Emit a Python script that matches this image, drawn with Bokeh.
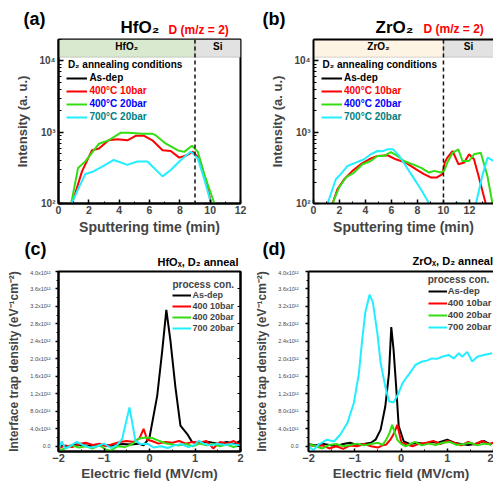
import numpy as np
from bokeh.plotting import figure
from bokeh.layouts import row, column
from bokeh.models import (Range1d, BoxAnnotation, Span, Label, Legend, LegendItem,
                          LinearAxis, SingleIntervalTicker, FixedTicker, CustomJSTickFormatter)
from bokeh.embed import file_html
from bokeh.resources import INLINE

FONT = "Liberation Sans"
BLACK, RED, GREEN, CYAN = "#000000", "#ff0000", "#33dd11", "#22eeff"
NAN = np.nan

# ---------------- (a) HfO2 : D (m/z = 2) SIMS intensity vs sputtering time (min) ----------------
a_asdep_t = [0.0, 12.0]          # as-dep signal lies below 10^2: not visible
a_asdep_i = [NAN, NAN]
a_r10_t = [0.9, 1.55, 2.21, 2.67, 3.3, 3.87, 4.54, 5.09, 5.64, 6.19, 6.86, 7.4, 7.96, 8.51, 8.85, 9.28, 9.73, 10.06]
a_r10_i = [100, 282, 560, 590, 770, 800, 770, 890, 890, 770, 560, 545, 440, 480, 535, 430, 205, 100]
a_g20_t = [0.84, 1.29, 1.77, 2.67, 3.3, 4.09, 4.64, 5.5, 6.2, 6.4, 7.08, 7.85, 8.29, 8.8, 9.18, 9.62, 10.28]
a_g20_i = [100, 316, 390, 690, 770, 980, 980, 950, 950, 910, 690, 560, 530, 645, 535, 253, 100]
a_c700_t = [0.87, 1.33, 1.77, 2.21, 2.88, 3.65, 4.54, 5.2, 5.86, 6.86, 7.4, 8.07, 8.73, 9.18, 9.62, 10.06]
a_c700_i = [100, 166, 259, 276, 330, 408, 348, 388, 388, 240, 296, 408, 535, 430, 217, 100]

# ---------------- (b) ZrO2 ----------------
b_asdep_t = [0.0, 14.0]
b_asdep_i = [NAN, NAN]
b_r10_t = [1.46, 1.85, 2.36, 3.0, 3.64, 4.28, 4.92, 5.7, 6.33, 7.1, 7.87, 8.5, 9.02, 9.5, 9.92, 10.1, 10.3, 10.7,
           11.15, 11.6, 11.97, 12.35, 12.7, 13.25]
b_r10_i = [100, 159, 219, 287, 356, 417, 465, 475, 417, 375, 303, 258, 232, 232, 258, 375, 440, 545,
           356, 375, 490, 417, 244, 100]
b_g20_t = [1.46, 1.97, 2.49, 3.12, 3.77, 4.4, 4.92, 5.43, 5.95, 6.46, 6.97, 7.6, 8.25, 8.9, 9.28, 9.8, 10.05, 10.3,
           10.7, 11.15, 11.46, 11.97, 12.35, 12.87, 13.38, 13.77]
b_g20_i = [100, 168, 232, 272, 356, 395, 465, 465, 525, 465, 395, 356, 318, 272, 287, 272, 287, 375,
           515, 575, 395, 395, 490, 515, 244, 100]
b_c700_t = [1.08, 1.72, 2.1, 2.62, 3.25, 3.9, 4.4, 4.92, 5.3, 5.7, 6.13, 6.6, 7.1, 7.6, 8.25, 8.9,
            NAN, 10.85, 11.0, 11.3, NAN, 12.5, 13.0, 13.4, 13.9]
b_c700_i = [100, 219, 258, 336, 375, 417, 490, 545, 540, 575, 575, 465, 336, 244, 160, 100,
            NAN, 98, 104, 98, NAN, 100, 250, 440, 390]

# ---------------- (c) HfOx : interface trap density (1e12 eV^-1 cm^-2) vs electric field (MV/cm) ----------------
c_asdep_e = [-2.0, -1.8, -1.6, -1.4, -1.2, -1.0, -0.8, -0.6, -0.4, -0.25, -0.13, 0.0, 0.17, 0.28, 0.37, 0.46,
             0.57, 0.68, 0.83, 0.94, 1.1, 1.3, 1.5, 1.7, 1.85, 2.0]
c_asdep_d = [0.02, 0.0, 0.04, 0.02, 0.0, 0.03, 0.01, 0.05, 0.04, 0.06, 0.02, 0.2, 1.16, 2.19, 3.12, 2.42,
             1.35, 0.47, 0.28, 0.09, 0.08, 0.1, 0.06, 0.1, 0.05, 0.12]
c_r10_e = [-2.0, -1.85, -1.7, -1.55, -1.4, -1.25, -1.1, -0.95, -0.8, -0.65, -0.5, -0.35, -0.22, -0.13, -0.05,
           0.05, 0.2, 0.35, 0.5, 0.65, 0.8, 0.95, 1.1, 1.25, 1.4, 1.55, 1.7, 1.85, 2.0]
c_r10_d = [-0.05, 0.02, -0.02, 0.05, 0.08, 0.03, 0.06, 0.0, 0.05, 0.1, 0.12, 0.1, 0.18, 0.40, 0.15,
           0.12, 0.06, 0.1, 0.08, 0.12, 0.06, 0.1, 0.08, 0.12, -0.05, 0.1, 0.06, 0.12, 0.02]
c_g20_e = [-2.0, -1.85, -1.7, -1.55, -1.4, -1.25, -1.1, -0.95, -0.85, -0.7, -0.55, -0.38, -0.24, -0.09, 0.06,
           0.2, 0.35, 0.5, 0.65, 0.8, 0.95, 1.1, 1.25, 1.4, 1.55, 1.7, 1.85, 2.0]
c_g20_d = [-0.1, -0.05, 0.02, -0.03, 0.0, -0.05, 0.02, -0.08, -0.1, 0.0, -0.02, 0.05, 0.17, 0.2, 0.19,
           0.13, 0.07, 0.04, 0.02, 0.05, 0.0, 0.06, 0.02, 0.05, 0.0, 0.04, -0.02, 0.03]
c_c700_e = [-2.0, -1.93, -1.85, -1.75, -1.6, -1.45, -1.3, -1.15, -1.0, -0.85, -0.72, -0.6, -0.44, -0.31, -0.2,
            -0.05, 0.1, 0.25, 0.4, 0.55, 0.7, 0.85, 1.0, 1.08, 1.2, 1.35, 1.5, 1.65, 1.8, 2.0]
c_c700_d = [-0.08, 0.11, -0.05, 0.0, 0.1, 0.02, -0.03, 0.0, 0.06, -0.04, 0.02, 0.17, 0.89, 0.13, 0.05,
            0.06, -0.03, 0.0, -0.04, 0.02, 0.05, -0.02, 0.03, 0.13, 0.05, 0.02, 0.06, 0.03, 0.05, 0.02]

# ---------------- (d) ZrOx ----------------
d_asdep_e = [-2.0, -1.85, -1.7, -1.55, -1.4, -1.25, -1.1, -0.95, -0.8, -0.65, -0.55, -0.44, -0.34, -0.26, -0.21,
             -0.16, -0.1, -0.05, 0.06, 0.2, 0.35, 0.5, 0.65, 0.8, 1.0, 1.15, 1.3, 1.45, 1.6, 1.8, 1.95]
d_asdep_d = [0.05, 0.02, 0.06, 0.03, 0.0, 0.05, 0.08, 0.03, 0.05, 0.08, 0.15, 0.38, 0.91, 1.67, 2.73,
             2.2, 1.29, 0.46, 0.11, 0.05, 0.08, 0.05, 0.1, 0.08, 0.15, 0.08, 0.05, 0.03, 0.05, 0.12, 0.03]
d_r10_e = [-2.0, -1.85, -1.7, -1.55, -1.4, -1.25, -1.1, -0.95, -0.8, -0.65, -0.5, -0.4, -0.32, -0.23, -0.15,
           -0.08, 0.01, 0.1, 0.25, 0.4, 0.55, 0.7, 0.85, 1.0, 1.15, 1.3, 1.45, 1.6, 1.75, 1.9, 2.0]
d_r10_d = [0.03, 0.0, 0.02, -0.05, 0.0, -0.06, 0.02, 0.0, 0.05, 0.0, -0.03, 0.02, 0.04, 0.15, 0.3,
           0.49, 0.08, 0.05, 0.0, 0.06, 0.08, 0.12, 0.05, 0.12, 0.08, 0.02, 0.1, 0.04, 0.12, 0.05, 0.08]
d_g20_e = [-2.0, -1.85, -1.7, -1.55, -1.4, -1.25, -1.1, -0.95, -0.8, -0.65, -0.5, -0.4, -0.32, -0.25, -0.19,
           -0.13, -0.08, 0.0, 0.1, 0.3, 0.45, 0.6, 0.75, 0.9, 1.05, 1.2, 1.35, 1.5, 1.65, 1.8, 1.95]
d_g20_d = [0.05, 0.0, -0.05, 0.03, 0.05, 0.0, 0.03, 0.06, 0.02, 0.05, 0.08, 0.03, 0.15, 0.3, 0.49,
           0.3, 0.15, 0.06, 0.0, 0.1, 0.02, 0.06, 0.03, 0.08, 0.1, 0.03, 0.05, 0.08, 0.02, 0.06, 0.04]
d_c700_e = [-2.0, -1.89, -1.78, -1.6, -1.45, -1.31, -1.16, -1.02, -0.91, -0.84, -0.77, -0.68, -0.61, -0.51,
            -0.44, -0.34, -0.26, -0.16, -0.05, 0.03, 0.13, 0.24, 0.31, 0.38, 0.46, 0.56, 0.67, 0.78, 0.89,
            1.03, 1.14, 1.25, 1.32, 1.43, 1.54, 1.65, 1.79, 1.97]
d_c700_d = [0.0, -0.09, 0.04, 0.15, 0.11, 0.27, 0.53, 0.99, 1.67, 2.43, 3.08, 3.47, 3.3, 2.58,
            1.9, 1.37, 1.03, 1.0, 1.22, 1.44, 1.59, 1.75, 1.86, 1.9, 1.94, 1.96, 2.01, 2.0, 2.05,
            2.09, 2.01, 2.13, 2.05, 2.16, 1.94, 2.05, 2.09, 2.13]

sims_labels = ["As-dep", "400°C 10bar", "400°C 20bar", "700°C 20bar"]
sims_label_colors = ["#000000", "#ff0000", "#0000ff", "#008080"]
dit_labels = ["As-dep", "400 10bar", "400 20bar", "700 20bar"]
dit_ticks = [0, 0.4, 0.8, 1.2, 1.6, 2.0, 2.4, 2.8, 3.2, 3.6, 4.0]
dit_tick_labels = ["0.0", "4.0x10¹¹", "8.0x10¹¹", "1.2x10¹²", "1.6x10¹²", "2.0x10¹²", "2.4x10¹²",
                   "2.8x10¹²", "3.2x10¹²", "3.6x10¹²", "4.0x10¹²"]
log_ticks = [100, 1000, 10000]
log_tick_labels = ["10²", "10³", "10⁴"]
line_colors = [BLACK, RED, GREEN, CYAN]


def lbl(p, x, y, text, size, color="black", align="left", xu="screen", yu="screen", style="bold"):
    p.add_layout(Label(x=x, y=y, x_units=xu, y_units=yu, text=text, text_font=FONT,
                       text_font_style=style, text_font_size=size, text_color=color,
                       text_align=align, text_baseline="middle"))


def style_axis(ax, tick_size, label_size, tick_style="bold"):
    ax.axis_line_width = 2
    ax.major_label_text_font = FONT
    ax.major_label_text_font_style = tick_style
    ax.major_label_text_font_size = tick_size
    ax.axis_label_text_font = FONT
    ax.axis_label_text_font_style = "bold"
    ax.axis_label_text_font_size = label_size
    ax.major_tick_line_width = 1.5
    ax.minor_tick_line_width = 1


def strip(height, texts):
    s = figure(width=493, height=height, x_range=Range1d(0, 493), y_range=Range1d(0, height),
               output_backend="svg", toolbar_location=None, min_border=0)
    s.axis.visible = False
    s.grid.visible = False
    s.outline_line_color = None
    for x, y, t, size, col in texts:
        lbl(s, x, y, t, size, color=col)
    return s


def sims_panel(width, x_end, mbl, mbr, series, oxide, cells, cell_colors, dash_x, leg_x):
    p = figure(width=width, height=200, x_range=Range1d(0, x_end), y_range=Range1d(100, 20000),
               y_axis_type="log", output_backend="svg", toolbar_location=None,
               min_border_left=mbl, min_border_right=mbr, min_border_top=2, min_border_bottom=32)
    p.xgrid.visible = False
    p.ygrid.visible = False
    p.outline_line_color = "black" if mbr > 0 else None
    p.outline_line_width = 2
    xa, ya = p.xaxis[0], p.yaxis[0]
    xa.ticker = SingleIntervalTicker(interval=2, num_minor_ticks=2)
    xa.axis_label = "Sputtering time (min)"
    style_axis(xa, "10.5px", "14px")
    xa.major_tick_in, xa.major_tick_out, xa.minor_tick_in, xa.minor_tick_out = 4, 0, 2, 0
    xa.major_label_standoff = 2
    xa.axis_label_standoff = 2
    ya.axis_label = "Intensity (a. u.)"
    style_axis(ya, "10px", "13px")
    ya.major_tick_in, ya.major_tick_out, ya.minor_tick_in, ya.minor_tick_out = 5, 0, 3, 0
    ya.major_label_overrides = dict(zip(log_ticks, log_tick_labels))
    ya.major_label_standoff = 3
    ya.axis_label_standoff = 6
    if mbr == 0:
        p.add_layout(LinearAxis(ticker=FixedTicker(ticks=[]), axis_line_width=2,
                                major_tick_in=0, major_tick_out=0, minor_tick_in=0, minor_tick_out=0), "above")
    # layer header cells
    for (l, r), c in zip(cells, cell_colors):
        p.add_layout(BoxAnnotation(left=l, right=r, bottom=11300, top=20000, fill_color=c, fill_alpha=1,
                                   line_color="#777777", line_width=1, level="underlay"))
    p.add_layout(Span(location=dash_x, dimension="height", line_color="#111111", line_width=1.5,
                      line_dash="4 3"))
    rends = []
    for (t, i), col in zip(series, line_colors):
        rends.append(p.line(np.array(t, dtype=float), np.array(i, dtype=float), line_color=col, line_width=2))
    names = [oxide, "Si"]
    for (l, r), nm in zip(cells, names):
        lbl(p, (l + min(r, x_end)) / 2, 157, nm, "10px", align="center", xu="data")
    lbl(p, leg_x + 1, 139, "D₂ annealing conditions", "10px")
    for k, (r, lab, tc) in enumerate(zip(rends, sims_labels, sims_label_colors)):
        yb = 120 - k * 13.1
        lg = Legend(items=[LegendItem(label=lab, renderers=[r])], location=(leg_x, yb),
                    label_text_color=tc, label_text_font=FONT, label_text_font_style="bold",
                    label_text_font_size="10px", glyph_width=21, glyph_height=10, label_height=10,
                    label_standoff=2, padding=0, margin=0, spacing=0,
                    background_fill_alpha=0, border_line_alpha=0)
        p.add_layout(lg)
    return p


def dit_panel(width, mbl, mbr, series, leg_xy, lab_std, entry_size):
    p = figure(width=width, height=217, x_range=Range1d(-2, 2), y_range=Range1d(-0.12, 4.0),
               output_backend="svg", toolbar_location=None,
               min_border_left=mbl, min_border_right=mbr, min_border_top=2, min_border_bottom=35)
    p.xgrid.visible = False
    p.ygrid.visible = False
    p.outline_line_color = "black" if mbr > 0 else None
    p.outline_line_width = 2
    xa, ya = p.xaxis[0], p.yaxis[0]
    xa.ticker = SingleIntervalTicker(interval=1, num_minor_ticks=2)
    xa.axis_label = "Electric field (MV/cm)"
    style_axis(xa, "11px", "13.5px")
    xa.major_tick_in, xa.major_tick_out, xa.minor_tick_in, xa.minor_tick_out = 3, 0, 2, 0
    xa.major_label_standoff = 2
    xa.axis_label_standoff = 1
    ya.ticker = FixedTicker(ticks=dit_ticks, minor_ticks=[0.2, 0.6, 1.0, 1.4, 1.8, 2.2, 2.6, 3.0, 3.4, 3.8])
    ya.major_label_overrides = dict(zip(dit_ticks, dit_tick_labels))
    ya.axis_label = "Interface trap density (eV⁻¹cm⁻²)"
    style_axis(ya, "5.5px", "12px", tick_style="normal")
    ya.major_tick_in, ya.major_tick_out, ya.minor_tick_in, ya.minor_tick_out = 0, 3, 0, 2
    ya.major_label_standoff = lab_std
    ya.axis_label_standoff = 6
    if mbr > 0:
        ra = LinearAxis(ticker=FixedTicker(ticks=dit_ticks), axis_line_width=2,
                        formatter=CustomJSTickFormatter(code="return ''"),
                        major_tick_in=3, major_tick_out=0, minor_tick_in=0, minor_tick_out=0)
        p.add_layout(ra, "right")
    else:
        p.add_layout(LinearAxis(ticker=FixedTicker(ticks=[]), axis_line_width=2,
                                major_tick_in=0, major_tick_out=0, minor_tick_in=0, minor_tick_out=0), "above")
    rends = []
    for (e, d), col in zip(series, line_colors):
        rends.append(p.line(e, d, line_color=col, line_width=2))
    lg = Legend(items=[LegendItem(label=lab, renderers=[r]) for lab, r in zip(dit_labels, rends)],
                location=leg_xy, title="process con.", title_text_font=FONT, title_text_font_style="bold",
                title_text_font_size="10px", title_standoff=-2,
                label_text_font=FONT, label_text_font_style="bold", label_text_font_size=entry_size,
                glyph_width=19, glyph_height=10, label_height=10, label_standoff=1,
                padding=0, margin=0, spacing=1, background_fill_alpha=0, border_line_alpha=0)
    p.add_layout(lg)
    return p


top1 = strip(37, [(23, 18.5, "(a)", "18px", "black"), (120, 10, "HfO₂", "17px", "black"),
                  (168, 8, "D (m/z = 2)", "12px", RED), (262, 18.5, "(b)", "18px", "black"),
                  (375, 10, "ZrO₂", "17px", "black"), (423, 9, "D (m/z = 2)", "12px", RED)])
pa = sims_panel(250, 12, 58, 10,
                [(a_asdep_t, a_asdep_i), (a_r10_t, a_r10_i), (a_g20_t, a_g20_i), (a_c700_t, a_c700_i)],
                "HfO₂", [(0, 9), (9, 12)], ["#d9e9cf", "#e2e2e2"], 9, 8.4)
pb = sims_panel(243, 13.85, 63, 0,
                [(b_asdep_t, b_asdep_i), (b_r10_t, b_r10_i), (b_g20_t, b_g20_i), (b_c700_t, b_c700_i)],
                "ZrO₂", [(0, 10), (10, 14)], ["#fdf4e3", "#e2e2e2"], 10, 8)
top2 = strip(32, [(24, 20.5, "(c)", "18px", "black"), (157, 7.3, "HfOₓ, D₂ anneal", "11px", "black"),
                  (262, 20.5, "(d)", "18px", "black"), (412, 9, "ZrOₓ, D₂ anneal", "11px", "black")])
pc = dit_panel(250, 58, 10,
               [(c_asdep_e, c_asdep_d), (c_r10_e, c_r10_d), (c_g20_e, c_g20_d), (c_c700_e, c_c700_d)],
               (114.4, 118), 5, "9px")
pd_ = dit_panel(243, 58, 0,
                [(d_asdep_e, d_asdep_d), (d_r10_e, d_r10_d), (d_g20_e, d_g20_d), (d_c700_e, d_c700_d)],
                (119.7, 119), 7, "9.5px")

layout = column(top1, row(pa, pb), top2, row(pc, pd_))
open("out.html", "w").write(file_html(layout, INLINE))
